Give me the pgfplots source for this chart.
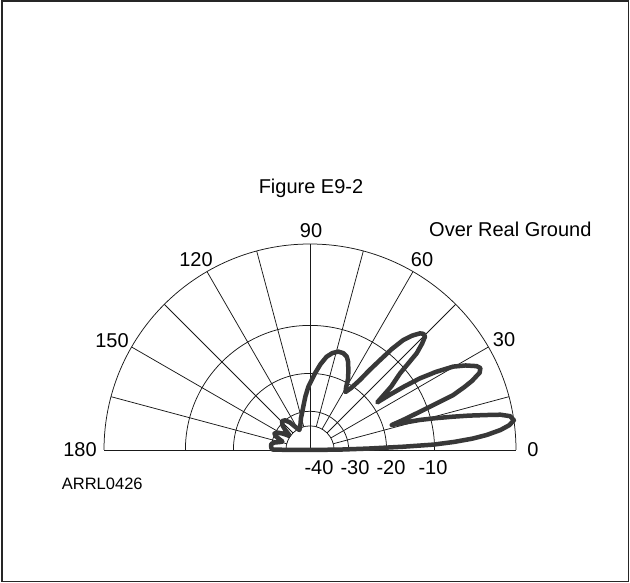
\documentclass[border=0pt]{standalone}
\usepackage{pgfplots}
\pgfplotsset{compat=1.18}
\usepackage{fontspec}
\setmainfont{Liberation Sans}
\begin{document}
\begin{tikzpicture}[x=1bp,y=1bp]
\useasboundingbox (0,0) rectangle (630,583);
\fill[white] (0,0) rectangle (630,583);
\draw[line width=1.6bp, black!85] (2,1.5) rectangle (628.5,581.8);
% grid (center 310,133 ; R = 206)
\begin{scope}[shift={(310,133)}, line width=0.75bp, black!90]
  \draw (-206,0) -- (206,0);
  \draw (206,0) arc[start angle=0, end angle=180, radius=206];
  \foreach \r in {124.6, 76.6, 38.7, 24.1} {
    \draw (\r,0) arc[start angle=0, end angle=180, radius=\r];
  }
  \foreach \a in {15,30,45,60,75,105,120,135,150,165} {
    \draw (\a:24.1) -- (\a:206);
  }
  \draw (0,0) -- (0,206);
\end{scope}
\begin{axis}[anchor=origin, at={(310bp,133bp)}, x=206bp, y=206bp,
  xmin=-1, xmax=1, ymin=0, ymax=1, hide axis, clip=false]
\addplot[data cs=polar, black!78, line width=4.5bp, line join=round, line cap=round, mark=none] coordinates {
(0,0) (0.8,0.15) (1.4,0.28) (2,0.45) (2.5,0.6) (3.2,0.7) (4,0.79) (4.85,0.86)
(6,0.93) (7.1,0.975) (8.3,1.0) (9.6,0.985) (10.5,0.94) (11.2,0.874) (12.2,0.79)
(13.1,0.714) (14.2,0.63) (15.3,0.553) (16.3,0.47) (17,0.415) (17.8,0.47)
(19.2,0.565) (21,0.745) (22.2,0.81) (23.1,0.855) (24.5,0.905) (25.7,0.918)
(26.7,0.906) (28.5,0.86) (30.2,0.805) (31.8,0.72) (33.1,0.637) (34,0.55)
(34.7,0.47) (35.3,0.40) (36.5,0.44) (38,0.50) (40.4,0.574) (42.2,0.699)
(43.5,0.75) (44.6,0.784) (45.7,0.788) (46.7,0.778) (48.2,0.745) (49.7,0.70)
(51,0.63) (52.1,0.553) (53.4,0.48) (54.5,0.418) (56.5,0.36) (58.5,0.33)
(60,0.35) (62,0.395) (64.4,0.43) (66.5,0.465) (68.5,0.487) (71,0.497)
(74,0.497) (77,0.483) (79.9,0.46) (83,0.42) (86.3,0.373) (91.5,0.307)
(95,0.26) (98.8,0.213) (102,0.185) (106,0.16) (110,0.135) (113,0.123)
(118,0.11) (122,0.13) (126,0.165) (130,0.188) (134,0.195) (138,0.18)
(141,0.155) (144,0.125) (146,0.125) (149,0.155) (152,0.18) (155,0.19)
(158,0.18) (161,0.155) (163,0.14) (165,0.15) (168,0.175) (171,0.19)
(174,0.19) (177,0.188) (179.5,0.18) (180,0)
};
\end{axis}
% labels
\begin{scope}[every node/.style={inner sep=0pt, font=\fontsize{20bp}{24bp}\selectfont}]
\node[anchor=base] at (311,389) {Figure E9-2};
\node[anchor=base west] at (429,346) {Over Real Ground};
\node[anchor=base] at (311,345) {90};
\node[anchor=base] at (196,316) {120};
\node[anchor=base] at (422,316) {60};
\node[anchor=base] at (112,235.5) {150};
\node[anchor=base] at (504,236) {30};
\node[anchor=base] at (80,126) {180};
\node[anchor=base] at (533,126) {0};
\node[anchor=base] at (319,108) {-40};
\node[anchor=base] at (355,108) {-30};
\node[anchor=base] at (391,108) {-20};
\node[anchor=base] at (433,108) {-10};
\node[anchor=base west, font=\fontsize{16.5bp}{20bp}\selectfont] at (61.7,93) {ARRL0426};
\end{scope}
\end{tikzpicture}
\end{document}
